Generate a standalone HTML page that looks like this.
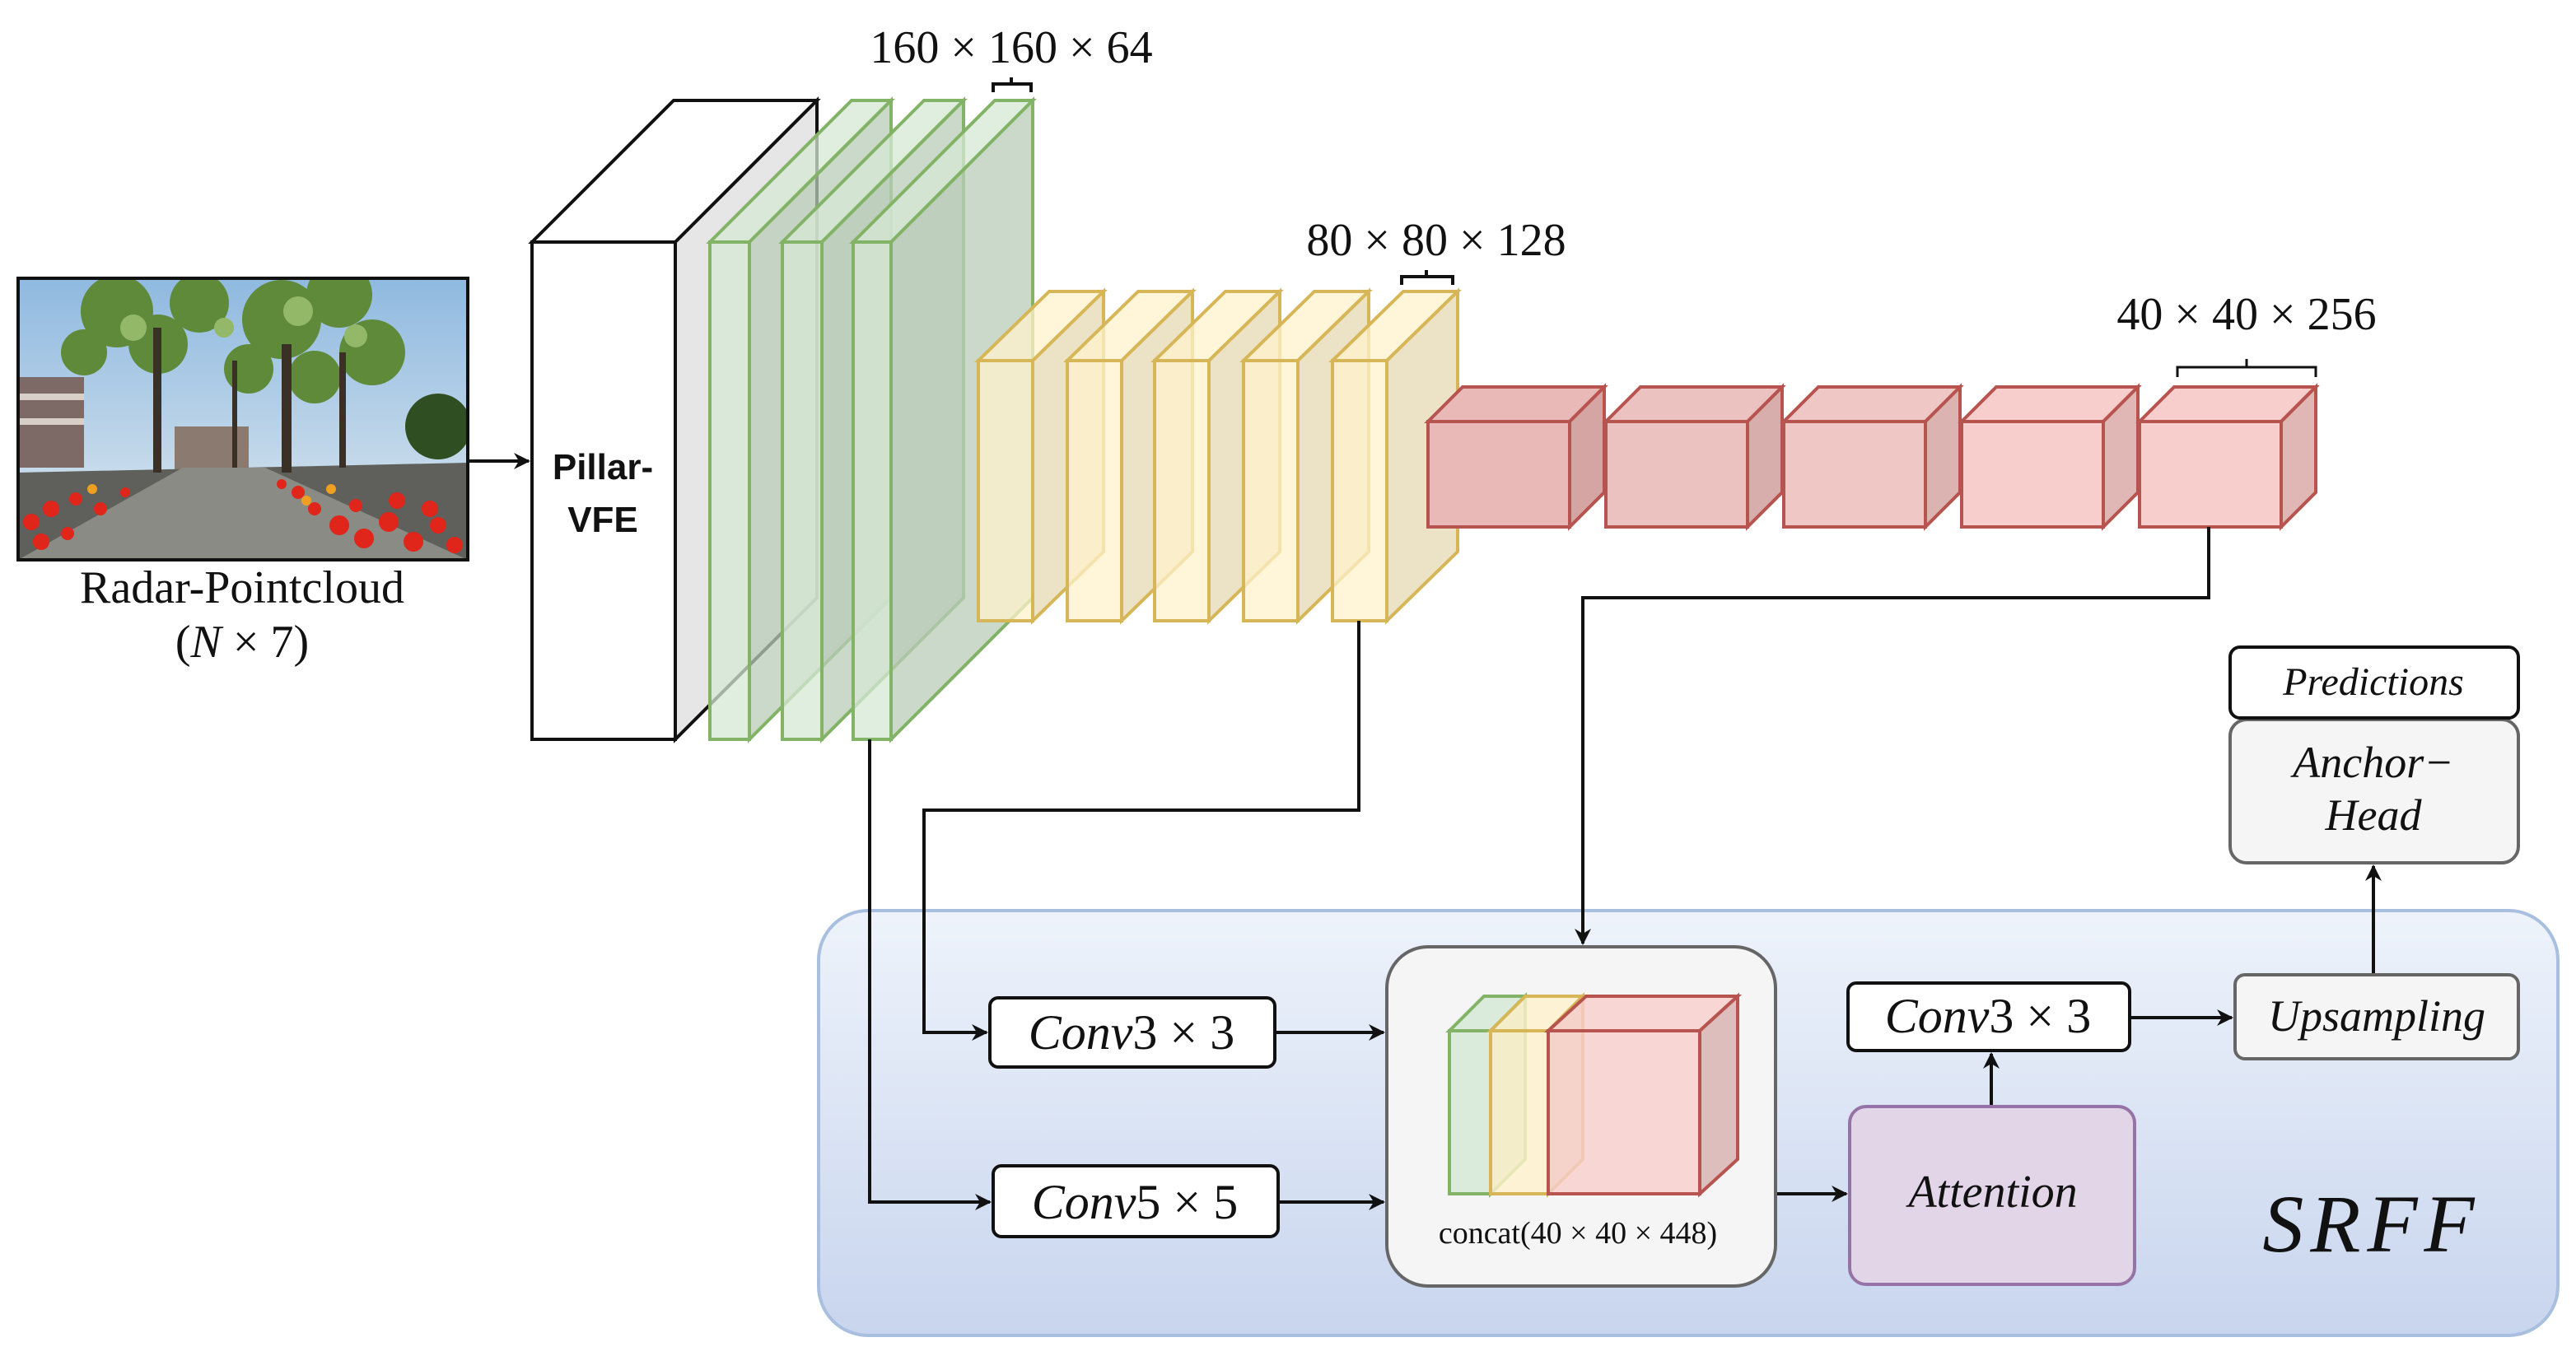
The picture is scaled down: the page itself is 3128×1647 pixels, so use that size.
<!DOCTYPE html>
<html><head><meta charset="utf-8"><style>
html,body{margin:0;padding:0;background:#fff}
svg{display:block}
text{font-family:"Liberation Serif",serif;fill:#111}
</style></head><body>
<svg width="3128" height="1647" viewBox="0 0 1564 823.5" xmlns="http://www.w3.org/2000/svg">
<defs>
<linearGradient id="bg" x1="0" y1="0" x2="0" y2="1"><stop offset="0" stop-color="#eef3fb"/><stop offset="1" stop-color="#c8d5ee"/></linearGradient>
<linearGradient id="sky" x1="0" y1="0" x2="0" y2="1"><stop offset="0" stop-color="#8fb9e0"/><stop offset="1" stop-color="#dfe9ef"/></linearGradient>
<marker id="ar" markerWidth="10" markerHeight="10" refX="9" refY="5" orient="auto" markerUnits="userSpaceOnUse"><path d="M0,0 L10,5 L0,10 L3,5 z" fill="#111"/></marker>
</defs>

<rect x="497" y="553" width="1056" height="258" rx="30" fill="url(#bg)" stroke="#a9bfe0" stroke-width="2"/>

<!-- photo -->
<svg x="11" y="169" width="273" height="171" viewBox="0 0 273 171">
<rect width="273" height="171" fill="url(#sky)"/>
<rect x="0" y="60" width="40" height="55" fill="#7d6a66"/>
<rect x="0" y="70" width="40" height="4" fill="#d8d0c8"/>
<rect x="0" y="85" width="40" height="4" fill="#d8d0c8"/>
<rect x="95" y="90" width="45" height="28" fill="#8a7a70"/>
<polygon points="0,118 273,112 273,171 0,171" fill="#5f605c"/>
<polygon points="100,115 150,115 273,171 0,171" fill="#8b8b86"/>
<g fill="#5e8a3a">
<circle cx="60" cy="20" r="22"/><circle cx="85" cy="40" r="18"/><circle cx="40" cy="45" r="14"/><circle cx="110" cy="15" r="18"/>
<circle cx="160" cy="25" r="24"/><circle cx="195" cy="10" r="20"/><circle cx="215" cy="45" r="20"/><circle cx="180" cy="60" r="16"/><circle cx="140" cy="55" r="15"/>
</g>
<g fill="#93b868"><circle cx="70" cy="30" r="8"/><circle cx="170" cy="20" r="9"/><circle cx="205" cy="35" r="7"/><circle cx="125" cy="30" r="6"/></g>
<circle cx="255" cy="90" r="20" fill="#2f4f22"/>
<g fill="#3b3025"><rect x="82" y="30" width="5" height="88"/><rect x="160" y="40" width="6" height="78"/><rect x="195" y="45" width="4" height="70"/><rect x="130" y="50" width="3" height="65"/></g>
<g fill="#e0251b">
<circle cx="8" cy="148" r="5"/><circle cx="20" cy="140" r="5"/><circle cx="35" cy="134" r="4"/><circle cx="14" cy="160" r="5"/><circle cx="30" cy="155" r="4"/><circle cx="50" cy="140" r="4"/><circle cx="65" cy="130" r="3"/>
<circle cx="180" cy="140" r="4"/><circle cx="195" cy="150" r="6"/><circle cx="210" cy="158" r="6"/><circle cx="225" cy="148" r="6"/><circle cx="240" cy="160" r="6"/><circle cx="255" cy="150" r="5"/><circle cx="265" cy="162" r="5"/><circle cx="230" cy="135" r="5"/><circle cx="250" cy="140" r="5"/><circle cx="170" cy="130" r="4"/><circle cx="205" cy="138" r="4"/><circle cx="160" cy="125" r="3"/>
</g>
<g fill="#f0a020"><circle cx="175" cy="135" r="3"/><circle cx="45" cy="128" r="3"/><circle cx="190" cy="128" r="3"/></g>
</svg>
<rect x="11" y="169" width="273" height="171" fill="none" stroke="#111" stroke-width="2"/>
<text x="147" y="366" font-size="28" text-anchor="middle">Radar-Pointcloud</text>
<text x="147" y="399" font-size="28" text-anchor="middle">(<tspan font-style="italic">N</tspan> × 7)</text>
<line x1="285" y1="280" x2="321" y2="280" stroke="#111" stroke-width="2" marker-end="url(#ar)"/>

<polygon points="323,147 410,147 496,61 409,61" fill="#fff" stroke="#111" stroke-width="2"/>
<polygon points="410,147 496,61 496,363 410,449" fill="#e6e6e6" stroke="#111" stroke-width="2"/>
<rect x="323" y="147" width="87" height="302" fill="#fff" stroke="#111" stroke-width="2"/>
<text x="366" y="291" font-size="22" font-weight="bold" text-anchor="middle" style="font-family:'Liberation Sans',sans-serif">Pillar-</text>
<text x="366" y="323" font-size="22" font-weight="bold" text-anchor="middle" style="font-family:'Liberation Sans',sans-serif">VFE</text>

<g stroke="#82b366" stroke-width="2" fill-opacity="0.75">
<g><polygon points="431,147 455,147 541,61 517,61" fill="#d5e8d4"/><polygon points="455,147 541,61 541,363 455,449" fill="#b9ccb8"/><rect x="431" y="147" width="24" height="302" fill="#d5e8d4"/></g>
<g><polygon points="475,147 499,147 585,61 561,61" fill="#d5e8d4"/><polygon points="499,147 585,61 585,363 499,449" fill="#b9ccb8"/><rect x="475" y="147" width="24" height="302" fill="#d5e8d4"/></g>
<g><polygon points="518,147 541,147 627,61 604,61" fill="#d5e8d4"/><polygon points="541,147 627,61 627,363 541,449" fill="#b9ccb8"/><rect x="518" y="147" width="23" height="302" fill="#d5e8d4"/></g>
</g>

<g stroke="#d6b656" stroke-width="2" fill-opacity="0.75">
<g><polygon points="594,219 627,219 670,177 637,177" fill="#fff2cc"/><polygon points="627,219 670,177 670,335 627,377" fill="#e6d9b3"/><rect x="594" y="219" width="33" height="158" fill="#fff2cc"/></g>
<g><polygon points="648,219 681,219 724,177 691,177" fill="#fff2cc"/><polygon points="681,219 724,177 724,335 681,377" fill="#e6d9b3"/><rect x="648" y="219" width="33" height="158" fill="#fff2cc"/></g>
<g><polygon points="701,219 734,219 777,177 744,177" fill="#fff2cc"/><polygon points="734,219 777,177 777,335 734,377" fill="#e6d9b3"/><rect x="701" y="219" width="33" height="158" fill="#fff2cc"/></g>
<g><polygon points="755,219 788,219 831,177 798,177" fill="#fff2cc"/><polygon points="788,219 831,177 831,335 788,377" fill="#e6d9b3"/><rect x="755" y="219" width="33" height="158" fill="#fff2cc"/></g>
<g><polygon points="809,219 842,219 885,177 852,177" fill="#fff2cc"/><polygon points="842,219 885,177 885,335 842,377" fill="#e6d9b3"/><rect x="809" y="219" width="33" height="158" fill="#fff2cc"/></g>
</g>

<g stroke="#b85450" stroke-width="2">
<g><polygon points="867,256 953,256 974,235 888,235" fill="#e8b9b7"/><polygon points="953,256 974,235 974,299 953,320" fill="#d4a5a3"/><rect x="867" y="256" width="86" height="64" fill="#e8b9b7"/></g>
<g><polygon points="975,256 1061,256 1082,235 996,235" fill="#ecc2c0"/><polygon points="1061,256 1082,235 1082,299 1061,320" fill="#d8aeac"/><rect x="975" y="256" width="86" height="64" fill="#ecc2c0"/></g>
<g><polygon points="1083,256 1169,256 1190,235 1104,235" fill="#efc7c5"/><polygon points="1169,256 1190,235 1190,299 1169,320" fill="#dbb3b1"/><rect x="1083" y="256" width="86" height="64" fill="#efc7c5"/></g>
<g><polygon points="1191,256 1277,256 1298,235 1212,235" fill="#f8cecc"/><polygon points="1277,256 1298,235 1298,299 1277,320" fill="#e0b7b5"/><rect x="1191" y="256" width="86" height="64" fill="#f8cecc"/></g>
<g><polygon points="1299,256 1385,256 1406,235 1320,235" fill="#f8cecc"/><polygon points="1385,256 1406,235 1406,299 1385,320" fill="#e0b7b5"/><rect x="1299" y="256" width="86" height="64" fill="#f8cecc"/></g>
</g>

<text x="614" y="38" font-size="28" text-anchor="middle">160 × 160 × 64</text>
<path d="M603,56 V51 H614 V47 M614,51 H626 V56" fill="none" stroke="#111" stroke-width="2"/>
<text x="872" y="155" font-size="28" text-anchor="middle">80 × 80 × 128</text>
<path d="M851,173 V168 H866 V164 M866,168 H882 V173" fill="none" stroke="#111" stroke-width="2"/>
<text x="1364" y="200" font-size="28" text-anchor="middle">40 × 40 × 256</text>
<path d="M1322,229 V223 H1364 V218 M1364,223 H1406 V229" fill="none" stroke="#111" stroke-width="1.5"/>

<g fill="none" stroke="#111" stroke-width="2">
<polyline points="825,377 825,492 561,492 561,627 599,627" marker-end="url(#ar)"/>
<polyline points="528,449 528,730 601,730" marker-end="url(#ar)"/>
<polyline points="1341,320 1341,363 961,363 961,573" marker-end="url(#ar)"/>
<line x1="774" y1="627" x2="840" y2="627" marker-end="url(#ar)"/>
<line x1="776" y1="730" x2="840" y2="730" marker-end="url(#ar)"/>
<line x1="1078" y1="725" x2="1121" y2="725" marker-end="url(#ar)"/>
<line x1="1209" y1="672" x2="1209" y2="640" marker-end="url(#ar)"/>
<line x1="1293" y1="618" x2="1355" y2="618" marker-end="url(#ar)"/>
<line x1="1441" y1="592" x2="1441" y2="526" marker-end="url(#ar)"/>
</g>

<rect x="601" y="606" width="173" height="42" rx="5" fill="#fff" stroke="#111" stroke-width="2"/>
<text x="687" y="637" font-size="30" font-style="italic" text-anchor="middle">Conv<tspan font-style="normal">3 × 3</tspan></text>
<rect x="603" y="708" width="173" height="43" rx="5" fill="#fff" stroke="#111" stroke-width="2"/>
<text x="689" y="740" font-size="30" font-style="italic" text-anchor="middle">Conv<tspan font-style="normal">5 × 5</tspan></text>

<rect x="842" y="575" width="236" height="206" rx="25" fill="#f5f5f5" stroke="#666" stroke-width="2"/>
<g stroke-width="2" fill-opacity="0.8">
<polygon points="880,626 905,626 926,605 901,605" fill="#d5e8d4" stroke="#82b366"/>
<polygon points="905,626 926,605 926,704 905,725" fill="#b9ccb8" stroke="#82b366"/>
<rect x="880" y="626" width="25" height="99" fill="#d5e8d4" stroke="#82b366"/>
<polygon points="905,626 940,626 961,605 926,605" fill="#fff2cc" stroke="#d6b656"/>
<polygon points="940,626 961,605 961,704 940,725" fill="#e6d9b3" stroke="#d6b656"/>
<rect x="905" y="626" width="35" height="99" fill="#fff2cc" stroke="#d6b656"/>
<polygon points="940,626 1032,626 1055,605 963,605" fill="#f8cecc" stroke="#b85450"/>
<polygon points="1032,626 1055,605 1055,704 1032,725" fill="#d8b0ae" stroke="#b85450"/>
<rect x="940" y="626" width="92" height="99" fill="#f8cecc" stroke="#b85450"/>
</g>
<text x="958" y="755" font-size="19" text-anchor="middle">concat(40 × 40 × 448)</text>

<rect x="1123" y="672" width="173" height="108" rx="10" fill="#e1d5e7" stroke="#9673a6" stroke-width="2"/>
<text x="1210" y="733" font-size="28" font-style="italic" text-anchor="middle">Attention</text>

<rect x="1122" y="597" width="171" height="41" rx="5" fill="#fff" stroke="#111" stroke-width="2"/>
<text x="1207" y="627" font-size="30" font-style="italic" text-anchor="middle">Conv<tspan font-style="normal">3 × 3</tspan></text>

<rect x="1357" y="592" width="172" height="51" rx="6" fill="#f5f5f5" stroke="#666" stroke-width="2"/>
<text x="1443" y="626" font-size="27" font-style="italic" text-anchor="middle">Upsampling</text>

<rect x="1354" y="437" width="175" height="87" rx="10" fill="#f5f5f5" stroke="#666" stroke-width="2"/>
<text x="1441" y="472" font-size="27" font-style="italic" text-anchor="middle">Anchor−</text>
<text x="1441" y="504" font-size="27" font-style="italic" text-anchor="middle">Head</text>

<rect x="1354" y="393" width="175" height="43" rx="6" fill="#fff" stroke="#111" stroke-width="2"/>
<text x="1441" y="422" font-size="24" font-style="italic" text-anchor="middle">Predictions</text>

<text x="1440" y="760" font-size="50" font-style="italic" text-anchor="middle" letter-spacing="4">SRFF</text>
</svg>
</body></html>
